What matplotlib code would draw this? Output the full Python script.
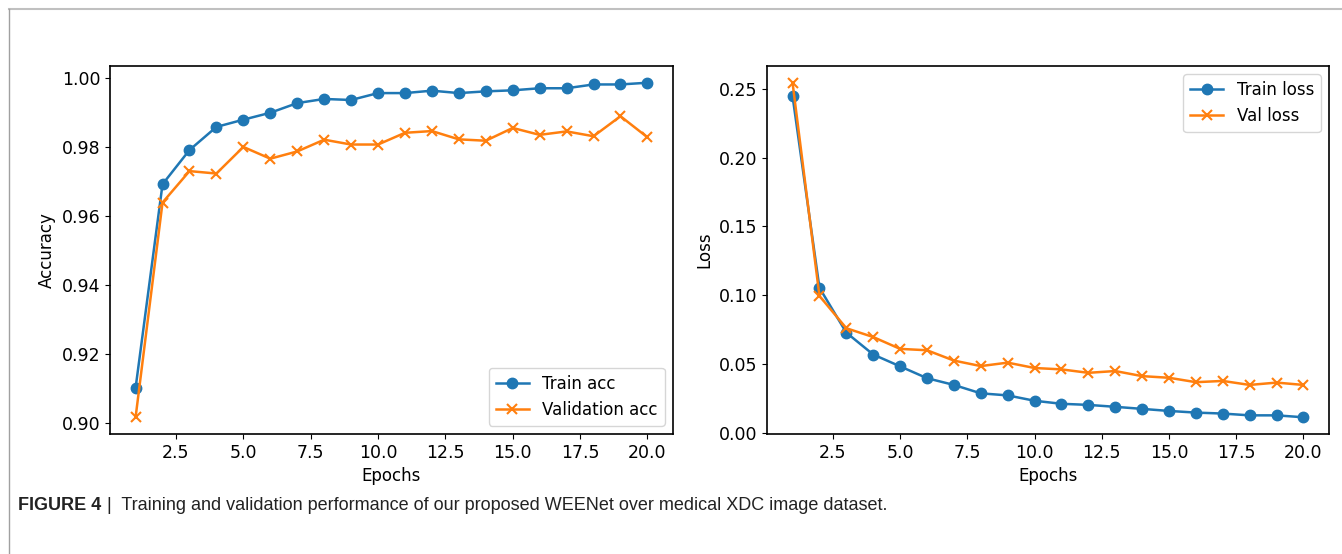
import matplotlib
matplotlib.use('Agg')
import matplotlib.pyplot as pl
import numpy as np

epochs = np.arange(1, 21)

train_acc = [0.9102, 0.9692, 0.9791, 0.9858, 0.9879, 0.9899, 0.9927, 0.9939, 0.9936, 0.9956,
             0.9956, 0.9963, 0.9956, 0.9961, 0.9964, 0.9970, 0.9970, 0.9981, 0.9981, 0.9986]
val_acc = [0.9017, 0.9639, 0.9730, 0.9723, 0.9800, 0.9766, 0.9787, 0.9821, 0.9807, 0.9807,
           0.9841, 0.9846, 0.9822, 0.9818, 0.9855, 0.9835, 0.9845, 0.9831, 0.9889, 0.9828]

train_loss = [0.2447, 0.1054, 0.0728, 0.0569, 0.0483, 0.0397, 0.0348, 0.0287, 0.0272, 0.0233,
              0.0211, 0.0203, 0.0189, 0.0174, 0.0159, 0.0147, 0.0140, 0.0127, 0.0127, 0.0113]
val_loss = [0.2544, 0.0995, 0.0760, 0.0696, 0.0610, 0.0600, 0.0525, 0.0485, 0.0510, 0.0471,
            0.0461, 0.0436, 0.0449, 0.0412, 0.0400, 0.0368, 0.0377, 0.0348, 0.0365, 0.0348]

caption_bold = 'FIGURE 4'
caption_text = 'Training and validation performance of our proposed WEENet over medical XDC image dataset.'

W, H = 1342, 554
fig = pl.figure(figsize=(W / 100, H / 100), dpi=100)


def rect(x0, y0, x1, y1):
    # pixel box -> figure fraction
    return [x0 / W, 1 - y1 / H, (x1 - x0) / W, (y1 - y0) / H]


ax1 = fig.add_axes(rect(110, 66, 673, 434))
ax2 = fig.add_axes(rect(767, 66, 1329, 434))

blue, orange = '#1f77b4', '#ff7f0e'
kw = dict(lw=1.8, ms=7.5)
ax1.plot(epochs, train_acc, marker='o', color=blue, label='Train acc', **kw)
ax1.plot(epochs, val_acc, marker='x', color=orange, label='Validation acc', mew=1.5, **kw)
ax1.set_xlabel('Epochs', fontsize=12)
ax1.set_ylabel('Accuracy', fontsize=12)
ax1.legend(loc='lower right', fontsize=12)

ax2.plot(epochs, train_loss, marker='o', color=blue, label='Train loss', **kw)
ax2.plot(epochs, val_loss, marker='x', color=orange, label='Val loss', mew=1.5, **kw)
ax2.set_xlabel('Epochs', fontsize=12)
ax2.set_ylabel('Loss', fontsize=12)
ax2.legend(loc='upper right', fontsize=12)

for ax in (ax1, ax2):
    ax.set_xticks([2.5, 5.0, 7.5, 10.0, 12.5, 15.0, 17.5, 20.0])
    ax.tick_params(labelsize=12.5)
    for s in ax.spines.values():
        s.set_linewidth(1.2)
ax1.set_yticks([0.90, 0.92, 0.94, 0.96, 0.98, 1.00])
ax2.set_yticks([0.00, 0.05, 0.10, 0.15, 0.20, 0.25])

# page frame lines (top and left)
fig.add_artist(pl.Line2D([9 / W, 1], [1 - 9 / H, 1 - 9 / H], color='#c0c0c0', lw=1.5))
fig.add_artist(pl.Line2D([9 / W, 9 / W], [0, 1 - 9 / H], color='#a0a0a0', lw=1))

cap_family = ['Liberation Sans', 'DejaVu Sans']
t = fig.text(18 / W, 1 - 506 / H, caption_bold, fontsize=13, fontweight='bold',
             family=cap_family, va='center', color='#222222')
fig.canvas.draw()
bb = t.get_window_extent()
fig.text((bb.x1 + 6) / W, 1 - 506 / H, '|  ' + caption_text, fontsize=13,
         family=cap_family, va='center', color='#222222')

fig.savefig('out.png', dpi=100)
